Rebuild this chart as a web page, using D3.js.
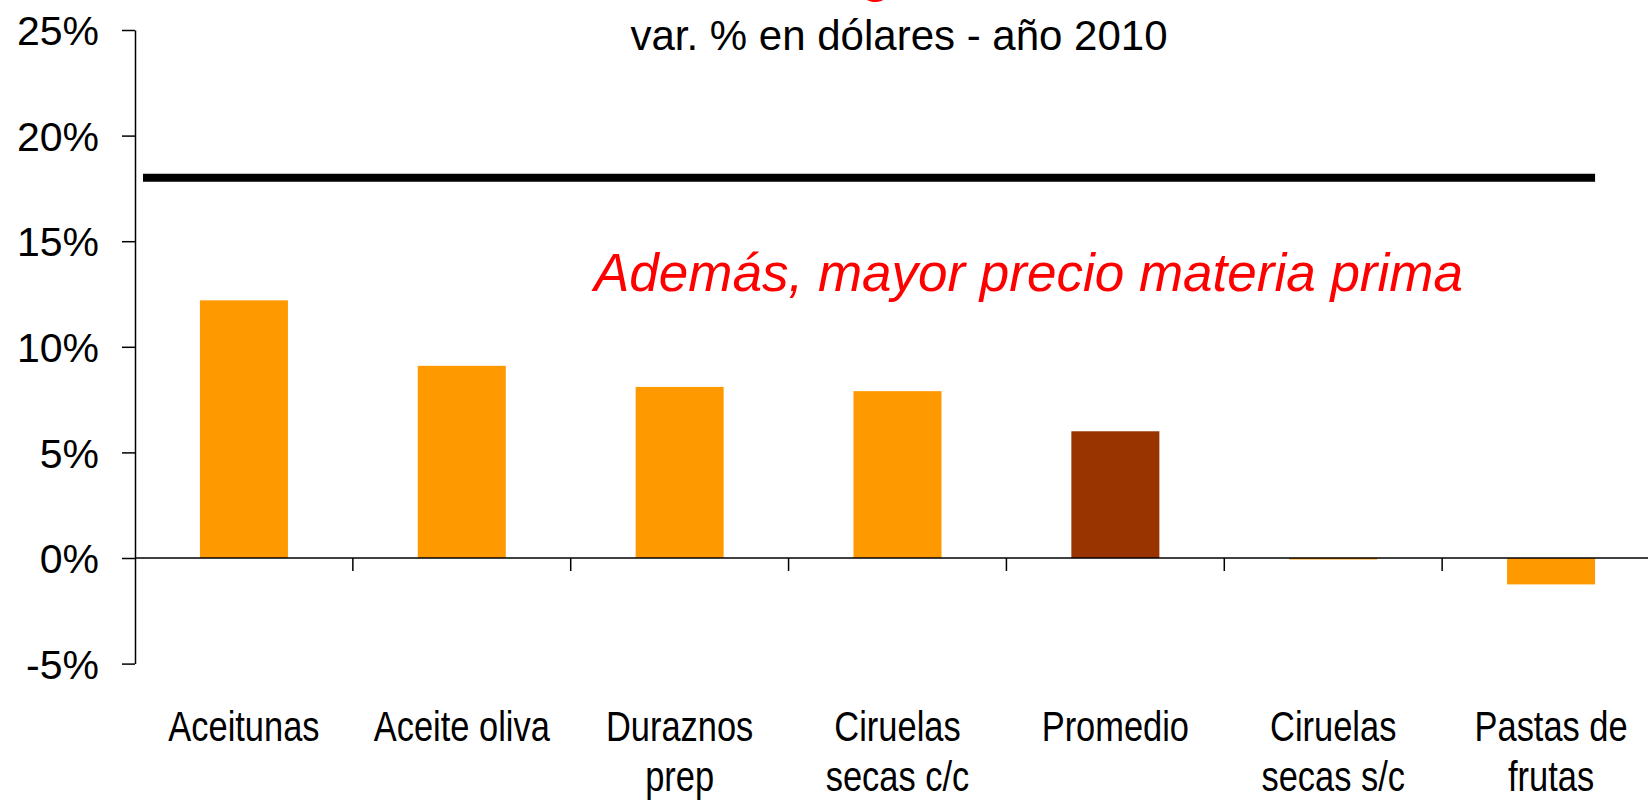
<!DOCTYPE html>
<html>
<head>
<meta charset="utf-8">
<script src="https://cdn.jsdelivr.net/npm/d3@7"></script>
<style>
  html, body { margin: 0; padding: 0; background: #fff; overflow: hidden; }
  text { font-family: "Liberation Sans", Arial, sans-serif; }
</style>
</head>
<body>
<svg id="chart"></svg>
<script>
// data
const categories = ["Aceitunas", "Aceite oliva", "Duraznos prep", "Ciruelas secas c/c", "Promedio", "Ciruelas secas s/c", "Pastas de frutas"];
const labelLines = [["Aceitunas"], ["Aceite oliva"], ["Duraznos", "prep"], ["Ciruelas", "secas c/c"], ["Promedio"], ["Ciruelas", "secas s/c"], ["Pastas de", "frutas"]];
const values = [12.2, 9.1, 8.1, 7.9, 6.0, -0.07, -1.25];
const highlight = ["Promedio"];
const refValue = 18.0;
const yTicks = [-5, 0, 5, 10, 15, 20, 25];
const subtitle = "var. % en dólares - año 2010";
const note = "Además, mayor precio materia prima";

function drawBarChart(chart_id = "#chart") {
  const svgWidth = 1648;
  const svgHeight = 800;
  const margin = { top: 30, left: 135 };
  const width = 1525;          // runs past the right edge, like the original
  const height = 633.6;

  const svg = d3.select(chart_id)
    .attr("width", svgWidth)
    .attr("height", svgHeight);

  const g = svg.append("g")
    .attr("transform", "translate(" + margin.left + "," + margin.top + ")");

  const xScale = d3.scaleBand()
    .domain(categories)
    .range([0, width])
    .paddingInner(0.596)
    .paddingOuter(0.298);

  const yScale = d3.scaleLinear()
    .domain([-5, 25])
    .range([height, 0]);

  // cut-off red title (only the tail of the "g" shows)
  svg.append("text")
    .attr("x", 876)
    .attr("y", -8)
    .attr("text-anchor", "middle")
    .attr("fill", "#ff0000")
    .style("font-size", "48px")
    .style("font-weight", "bold")
    .text("g");

  // subtitle
  svg.append("text")
    .attr("x", 899)
    .attr("y", 50)
    .attr("text-anchor", "middle")
    .attr("fill", "#000")
    .style("font-size", "42px")
    .text(subtitle);

  // bars
  g.selectAll(".bar")
    .data(values)
    .enter().append("rect")
    .attr("class", "bar")
    .attr("x", (d, i) => xScale(categories[i]))
    .attr("width", xScale.bandwidth())
    .attr("y", d => yScale(Math.max(0, d)))
    .attr("height", d => Math.abs(yScale(d) - yScale(0)))
    .attr("fill", (d, i) => highlight.includes(categories[i]) ? "#993300" : "#ff9900");

  // y axis
  const yAxis = g.append("g")
    .call(d3.axisLeft(yScale).tickValues(yTicks).tickSize(13).tickSizeOuter(0).tickPadding(23).tickFormat(d => d + "%"));
  yAxis.select(".domain").attr("stroke", "#000").attr("stroke-width", 1.5);
  yAxis.selectAll(".tick line").attr("stroke", "#000").attr("stroke-width", 1.5);
  yAxis.selectAll(".tick text")
    .attr("fill", "#000")
    .style("font-size", "41px")
    .style("font-family", "'Liberation Sans', Arial, sans-serif")
    .attr("dy", "0.36em");

  // x axis at zero with ticks at the band boundaries
  const zeroY = yScale(0);
  g.append("line")
    .attr("x1", 0).attr("x2", width)
    .attr("y1", zeroY).attr("y2", zeroY)
    .attr("stroke", "#000").attr("stroke-width", 1.5);

  const step = xScale.step();
  const bounds = d3.range(1, categories.length).map(i => xScale(categories[i]) - step * xScale.paddingInner() / 2);
  g.selectAll(".xtick")
    .data(bounds)
    .enter().append("line")
    .attr("x1", d => d).attr("x2", d => d)
    .attr("y1", zeroY).attr("y2", zeroY + 13)
    .attr("stroke", "#000").attr("stroke-width", 1.5);

  // category labels (narrow face squeezed from the regular one)
  const cat = g.append("g").attr("class", "cat");
  cat.selectAll("text")
    .data(labelLines)
    .enter().append("text")
    .attr("text-anchor", "middle")
    .attr("fill", "#000")
    .style("font-size", "42px")
    .attr("transform", (d, i) => "translate(" + (xScale(categories[i]) + xScale.bandwidth() / 2) + "," + (741 - margin.top) + ") scale(0.82,1)")
    .each(function (lines) {
      d3.select(this).selectAll("tspan")
        .data(lines)
        .enter().append("tspan")
        .attr("x", 0)
        .attr("y", (d, j) => j * 50)
        .text(d => d);
    });

  // reference line
  const lastCat = categories[categories.length - 1];
  g.append("line")
    .attr("x1", 8)
    .attr("x2", xScale(lastCat) + xScale.bandwidth())
    .attr("y1", yScale(refValue))
    .attr("y2", yScale(refValue))
    .attr("stroke", "#000")
    .attr("stroke-width", 8);

  // red note
  svg.append("text")
    .attr("x", 594)
    .attr("y", 291)
    .attr("fill", "#ff0000")
    .style("font-size", "53px")
    .style("font-style", "italic")
    .text(note);
}

drawBarChart();
</script>
</body>
</html>
